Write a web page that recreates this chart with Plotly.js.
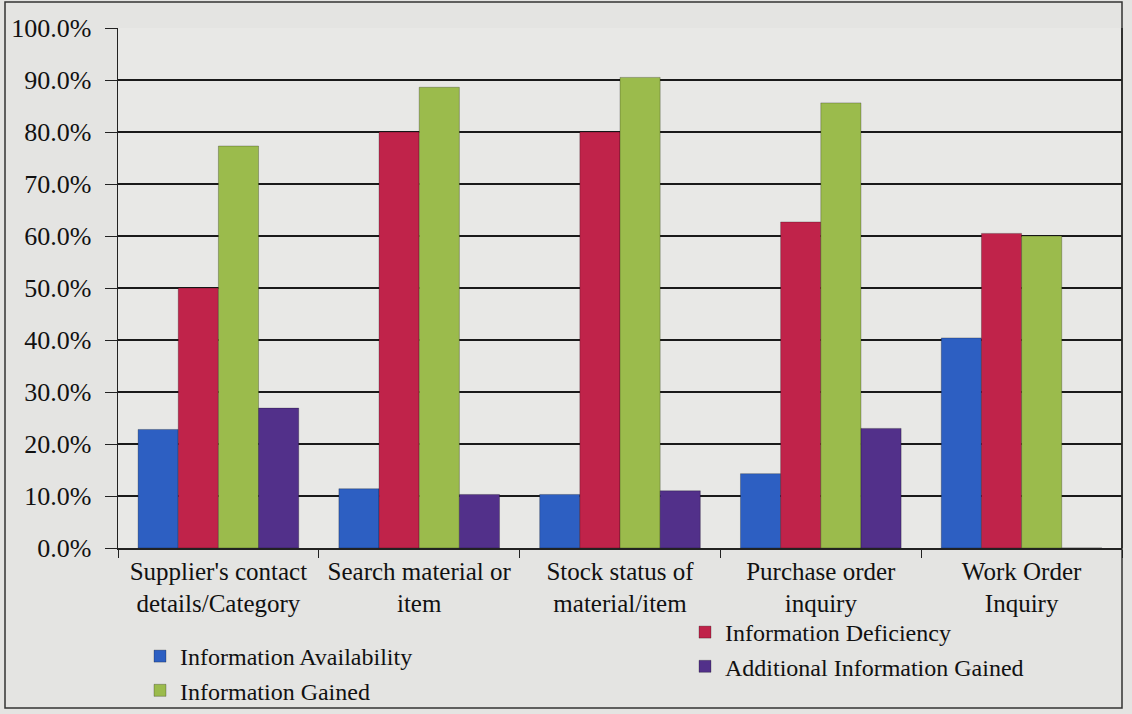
<!DOCTYPE html>
<html>
<head>
<meta charset="utf-8">
<script src="https://cdn.plot.ly/plotly-3.0.1.min.js"></script>
<style>
  html, body { margin: 0; padding: 0; background: #e4e4e2; }
  #chart { width: 1132px; height: 714px; }
</style>
</head>
<body>
<div id="chart"></div>
<script>
const categories = [
  "Supplier's contact<br>details/Category",
  "Search material or<br>item",
  "Stock status of<br>material/item",
  "Purchase order<br>inquiry",
  "Work Order<br>Inquiry"
];
const seriesNames = [
  "Information Availability",
  "Information Deficiency",
  "Information Gained",
  "Additional Information Gained"
];
const availability = [0.228, 0.114, 0.103, 0.143, 0.404];
const deficiency   = [0.500, 0.800, 0.800, 0.627, 0.605];
const gained       = [0.773, 0.886, 0.905, 0.856, 0.600];
const additional   = [0.269, 0.103, 0.110, 0.230, 0];
const colors = ["#2d5fc2", "#c0234a", "#9bbb4c", "#52308a"];
const legendOf = ["legend", "legend2", "legend", "legend2"];
const seriesValues = [availability, deficiency, gained, additional];

const traces = seriesValues.map((vals, i) => ({
  type: "bar",
  name: seriesNames[i],
  legend: legendOf[i],
  x: categories,
  y: vals,
  marker: { color: colors[i], line: { color: "rgba(0,0,0,0.25)", width: 1 } },
  hoverinfo: "y+name"
}));

const W = 1132, H = 714, L = 118, R = 10, T = 28, B = 166;
const pw = W - L - R, ph = H - T - B;
const px = v => (v - L) / pw;
const py = v => (H - B - v) / ph;

const legendBase = {
  orientation: "v",
  xanchor: "left", yanchor: "top",
  font: { size: 24, color: "#111" },
  bgcolor: "rgba(0,0,0,0)",
  traceorder: "normal",
  itemwidth: 30,
  tracegroupgap: 0
};

const layout = {
  width: W, height: H,
  margin: { l: L, r: R, t: T, b: B, pad: 0, autoexpand: false },
  paper_bgcolor: "#e4e4e2",
  plot_bgcolor: "#e8e8e6",
  barmode: "group",
  bargap: 0.2,
  bargroupgap: 0,
  font: { family: "Liberation Serif, Times New Roman, serif", color: "#111" },
  xaxis: {
    type: "category",
    showgrid: false,
    showline: true, linecolor: "#222", linewidth: 1.5,
    ticks: "outside", tickson: "boundaries", ticklen: 8, tickcolor: "#222",
    tickfont: { size: 25, color: "#111" },
    automargin: false
  },
  yaxis: {
    range: [0, 1.0],
    dtick: 0.1,
    tickformat: ".1%",
    showgrid: true, gridcolor: "#1a1a1a", gridwidth: 1.5,
    showline: true, linecolor: "#222", linewidth: 1.5,
    ticks: "outside", ticklen: 12, tickcolor: "#222",
    ticklabelstandoff: 8,
    tickfont: { size: 26, color: "#111" },
    zeroline: false,
    automargin: false
  },
  legend: Object.assign({}, legendBase, { x: px(140), y: py(634) }),
  legend2: Object.assign({}, legendBase, { x: px(685), y: py(610) }),
  shapes: [
    { type: "rect", xref: "paper", yref: "paper",
      x0: px(5), x1: 1, y0: py(708), y1: py(2),
      line: { color: "#333", width: 1.5 }, fillcolor: "rgba(0,0,0,0)", layer: "below" },
    { type: "line", xref: "paper", yref: "paper",
      x0: 1, x1: 1, y0: 0, y1: 1, line: { color: "#222", width: 1.5 } }
  ]
};

Plotly.newPlot("chart", traces, layout, { displayModeBar: false, staticPlot: true });
</script>
</body>
</html>
